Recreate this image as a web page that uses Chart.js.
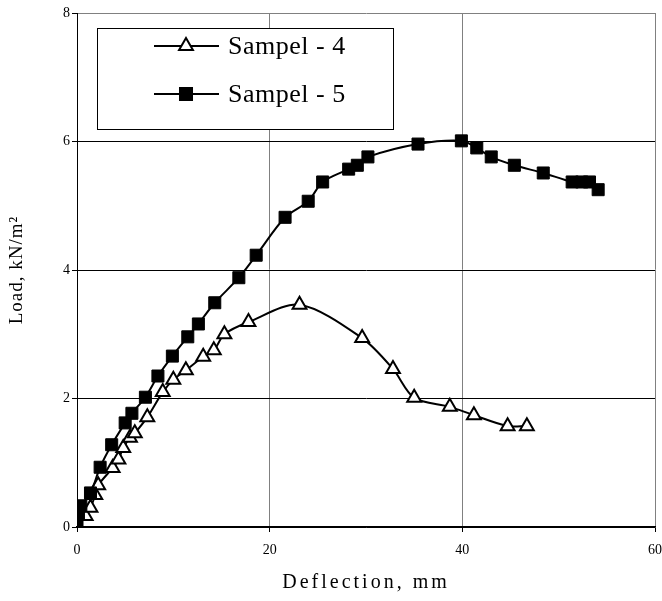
<!DOCTYPE html>
<html><head><meta charset="utf-8">
<script src="https://cdn.jsdelivr.net/npm/chart.js@4/dist/chart.umd.min.js"></script>
<style>html,body{margin:0;padding:0;background:#fff;overflow:hidden}#wrap{width:672px;height:601px;position:relative}</style>
</head><body><div id="wrap"><canvas id="c"></canvas></div>
<script>
const seriesNames = ['Sampel - 4', 'Sampel - 5'];
const s4x = [0, 0.9, 1.4, 1.9, 2.2, 3.7, 4.3, 4.8, 5.5, 6.0, 7.3, 8.9, 10.0, 11.3, 13.1, 14.2, 15.3, 17.8, 23.1, 29.6, 32.8, 35.0, 38.7, 41.2, 44.7, 46.7];
const s4y = [0, 0.17, 0.3, 0.5, 0.65, 0.92, 1.05, 1.23, 1.39, 1.46, 1.71, 2.10, 2.29, 2.44, 2.65, 2.75, 3.0, 3.19, 3.46, 2.94, 2.46, 2.01, 1.87, 1.74, 1.57, 1.57];
const s5x = [0, 0.15, 0.4, 1.4, 2.4, 3.6, 5.0, 5.7, 7.1, 8.4, 9.9, 11.5, 12.6, 14.3, 16.8, 18.6, 21.6, 24.0, 25.5, 28.2, 29.1, 30.2, 35.4, 39.9, 41.5, 43.0, 45.4, 48.4, 51.4, 52.4, 53.2, 54.1];
const s5y = [0, 0.2, 0.33, 0.53, 0.93, 1.28, 1.62, 1.77, 2.02, 2.35, 2.66, 2.96, 3.16, 3.49, 3.88, 4.23, 4.82, 5.07, 5.37, 5.57, 5.63, 5.76, 5.96, 6.01, 5.90, 5.76, 5.63, 5.51, 5.37, 5.37, 5.37, 5.25];
const xTicks = [0, 20, 40, 60];
const yTicks = [0, 2, 4, 6, 8];
const xTitle = 'Deflection, mm';
const yTitle = 'Load, kN/m\u00B2';

const toPts = (xs, ys) => xs.map((x, i) => ({x: x, y: ys[i]}));
const FONT = "'Liberation Serif', 'Times New Roman', serif";

const spacedTitles = {
  id: 'spacedTitles',
  beforeDraw(chart) {
    const sp = {x: '3px', y: '1px'};
    Object.keys(sp).forEach(k => {
      const s = chart.scales[k];
      if (s && !s._spacedWrapped) {
        const orig = s.drawTitle;
        s.drawTitle = function () {
          const ctx = this.ctx;
          ctx.letterSpacing = sp[k];
          orig.apply(this, arguments);
          ctx.letterSpacing = '0px';
        };
        s._spacedWrapped = true;
      }
    });
  }
};

const legendBox = {
  id: 'legendBox',
  afterDatasetsDraw(chart) {
    const ctx = chart.ctx;
    ctx.save();
    const bx = 97, by = 28, bw = 296, bh = 101;
    ctx.fillStyle = '#fff';
    ctx.fillRect(bx, by, bw, bh);
    ctx.strokeStyle = '#000';
    ctx.lineWidth = 1;
    ctx.strokeRect(bx + 0.5, by + 0.5, bw, bh);
    const rows = [46, 94];
    chart.data.datasets.forEach((ds, i) => {
      const y = rows[i];
      ctx.strokeStyle = '#000';
      ctx.lineWidth = 2;
      ctx.beginPath(); ctx.moveTo(154, y); ctx.lineTo(219, y); ctx.stroke();
      ctx.fillStyle = ds.pointBackgroundColor;
      ctx.strokeStyle = '#000';
      ctx.lineWidth = 2;
      Chart.helpers.drawPoint(ctx, {pointStyle: ds.pointStyle, radius: ds.pointRadius, rotation: 0, borderWidth: 2}, 186, y);
      ctx.fillStyle = '#000';
      ctx.font = "26px " + FONT;
      ctx.letterSpacing = '0.5px';
      ctx.textBaseline = 'middle';
      ctx.textAlign = 'left';
      ctx.fillText(ds.label, 228, y + 1);
      ctx.letterSpacing = '0px';
    });
    ctx.restore();
  }
};

new Chart(document.getElementById('c'), {
  type: 'line',
  data: {
    datasets: [
      {label: seriesNames[0], data: toPts(s4x, s4y), borderColor: '#000', borderWidth: 2,
       pointStyle: 'triangle', pointRadius: 8, pointBackgroundColor: '#fff', pointBorderColor: '#000', pointBorderWidth: 2,
       tension: 0.3, order: 1},
      {label: seriesNames[1], data: toPts(s5x, s5y), borderColor: '#000', borderWidth: 2,
       pointStyle: 'rect', pointRadius: 8.5, pointBackgroundColor: '#000', pointBorderColor: '#000', pointBorderWidth: 1,
       tension: 0.3, order: 0}
    ]
  },
  options: {
    responsive: true, maintainAspectRatio: false, animation: false,
    layout: {padding: {top: 13, right: 0, left: 0, bottom: 0}},
    plugins: {legend: {display: false}, tooltip: {enabled: false}},
    scales: {
      x: {
        type: 'linear', min: 0, max: 60,
        afterBuildTicks: s => { s.ticks = xTicks.map(v => ({value: v})); },
        afterFit: s => { s.height = 74; },
        grid: {color: c => c.tick && c.tick.value === 0 ? '#000' : '#808080', lineWidth: 1, drawTicks: true, tickLength: 5, tickColor: '#000'},
        border: {color: '#000', width: 1.5},
        ticks: {color: '#000', font: {family: FONT, size: 14}, padding: 10, maxRotation: 0},
        title: {display: true, text: xTitle, color: '#000', font: {family: FONT, size: 20}, padding: {top: 10, bottom: 6}}
      },
      y: {
        type: 'linear', min: 0, max: 8,
        afterBuildTicks: s => { s.ticks = yTicks.map(v => ({value: v})); },
        afterFit: s => { s.width = 77; },
        grid: {color: c => c.tick && c.tick.value === 8 ? '#808080' : '#000', lineWidth: 1, drawTicks: true, tickLength: 5, tickColor: '#000'},
        border: {color: '#000', width: 1},
        ticks: {color: '#000', font: {family: FONT, size: 14}, padding: 2},
        title: {display: true, text: yTitle, color: '#000', font: {family: FONT, size: 19}, padding: {top: 6, bottom: 0}}
      }
    }
  },
  plugins: [spacedTitles, legendBox]
});
</script></body></html>
